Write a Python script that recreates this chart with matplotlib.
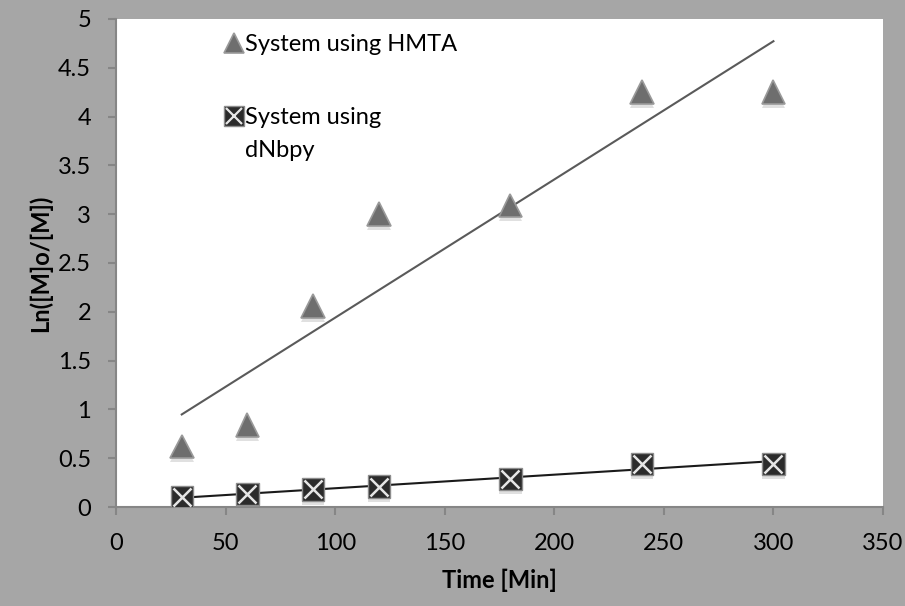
import numpy as np
import matplotlib
matplotlib.use("Agg")
import matplotlib.pyplot as plt
import matplotlib.patheffects as pe
from matplotlib.lines import Line2D

plt.rcParams["font.family"] = ["Lato", "DejaVu Sans"]

# reaction time (min) and ln([M]o/[M]) for each catalyst system
time_min = [30, 60, 90, 120, 180, 240, 300]
ln_hmta = [0.62, 0.84, 2.06, 3.00, 3.09, 4.25, 4.25]
ln_dnbpy = [0.10, 0.13, 0.18, 0.21, 0.29, 0.44, 0.44]

x_ticks = [0, 50, 100, 150, 200, 250, 300, 350]
y_ticks = [0, 0.5, 1, 1.5, 2, 2.5, 3, 3.5, 4, 4.5, 5]
y_tick_labels = ["0", "0.5", "1", "1.5", "2", "2.5", "3", "3.5", "4", "4.5", "5"]

BG = "#a6a6a6"
AXIS = "#868686"
TRI = "#6e6e6e"
SQ = "#2b2b2b"
FS = 17

fig = plt.figure(figsize=(9.05, 6.06), dpi=100, facecolor=BG)
ax = fig.add_axes([116 / 905, 1 - 507 / 606, (883 - 116) / 905, (507 - 19) / 606])
ax.set_facecolor("white")

shadow = [pe.SimplePatchShadow(offset=(0, -3), shadow_rgbFace="#999999", alpha=0.3), pe.Normal()]

# linear trendlines fitted to each series
t = np.array(time_min, dtype=float)
tt = np.array([t.min(), t.max()])
k1, b1 = np.polyfit(t, ln_hmta, 1)
k2, b2 = np.polyfit(t, ln_dnbpy, 1)
ax.plot(tt, k1 * tt + b1, color="#5a5a5a", lw=1.5, zorder=2)
ax.plot(tt, k2 * tt + b2, color="#1a1a1a", lw=1.5, zorder=2)

ax.plot(time_min, ln_hmta, ls="none", marker="^", ms=17, mfc=TRI, mec="#9a9a9a",
        mew=1.2, zorder=3, path_effects=shadow)
ax.plot(time_min, ln_dnbpy, ls="none", marker="s", ms=16, mfc=SQ, mec="#8c8c8c",
        mew=1.0, zorder=3, path_effects=shadow)
ax.plot(time_min, ln_dnbpy, ls="none", marker="x", ms=13, mec="#e6e6e6",
        mew=1.8, zorder=4)

ax.set_xlim(0, 350)
ax.set_ylim(0, 5)
ax.set_xticks(x_ticks)
ax.set_yticks(y_ticks)
ax.set_yticklabels(y_tick_labels)

for side in ("top", "right"):
    ax.spines[side].set_visible(False)
for side in ("left", "bottom"):
    ax.spines[side].set_color(AXIS)
    ax.spines[side].set_linewidth(1.5)
ax.tick_params(direction="out", length=6, width=1.5, color=AXIS,
               labelsize=FS, labelcolor="black")
ax.tick_params(axis="x", pad=13)
ax.tick_params(axis="y", pad=12)

ax.set_xlabel("Time [Min]", fontsize=FS, fontweight="bold", labelpad=10)
ax.set_ylabel("Ln([M]o/[M])", fontsize=FS, fontweight="bold", labelpad=4)

# legend: marker sits beside the first line of each entry
tri_handle = Line2D([], [], ls="none", marker="^", ms=15, mfc=TRI, mec="#9a9a9a", mew=1.2)
sq_handle = (Line2D([], [], ls="none", marker="s", ms=14, mfc=SQ, mec="#8c8c8c", mew=1.0),
             Line2D([], [], ls="none", marker="x", ms=11, mec="#e6e6e6", mew=1.6))
blank = Line2D([], [], ls="none")
common = dict(frameon=False, fontsize=FS, handlelength=0.8, handletextpad=0.1,
              borderaxespad=0, borderpad=0)

leg1 = ax.legend([tri_handle], ["System using HMTA"], loc="center left",
                 bbox_to_anchor=(0.141, 0.947), **common)
ax.add_artist(leg1)
ax.legend([sq_handle, blank], ["System using", "dNbpy"], loc="center left",
          bbox_to_anchor=(0.141, 0.765), labelspacing=0.5, **common)

fig.savefig("out.png", dpi=100, facecolor=BG)
